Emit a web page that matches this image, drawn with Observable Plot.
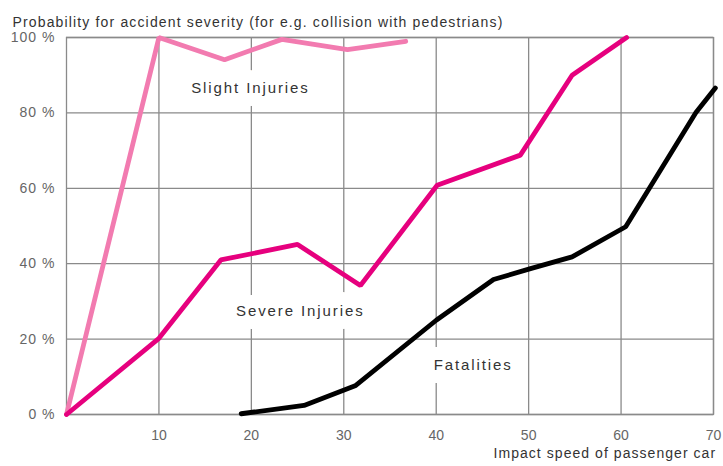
<!DOCTYPE html>
<html>
<head>
<meta charset="utf-8">
<script src="https://cdn.jsdelivr.net/npm/d3@7"></script>
<script src="https://cdn.jsdelivr.net/npm/@observablehq/plot@0.6"></script>
<style>
  html, body { margin: 0; padding: 0; background: #fff; }
  #chart svg { display: block; }
</style>
</head>
<body>
<div id="chart"></div>
<script>
const titleText = "Probability for accident severity (for e.g. collision with pedestrians)";
const xAxisLabel = "Impact speed of passenger car";
const xTicks = [10, 20, 30, 40, 50, 60, 70];
const yTicks = [0, 20, 40, 60, 80, 100];

const slightSpeed = [0, 10, 17.1, 23.3, 30.4, 36.7];
const slightProb  = [0, 100, 94.1, 99.5, 96.8, 99];

const severeSpeed = [0, 10, 16.7, 25.0, 31.8, 40.1, 49.1, 54.7, 60.6];
const severeProb  = [0, 20.2, 41, 45.1, 34.2, 60.8, 68.8, 90, 100];

const fatalSpeed = [18.9, 25.7, 31.3, 40, 46.2, 50.2, 54.7, 60.5, 68.1, 70.2];
const fatalProb  = [0.2, 2.4, 7.7, 25, 35.8, 38.7, 41.8, 49.8, 80.1, 86.6];

const seriesNames = ["Slight Injuries", "Severe Injuries", "Fatalities"];
const seriesColors = ["#f27bb0", "#e6007e", "#000000"];
const labelPos = [
  {name: "Slight Injuries", speed: 19.9, prob: 86.5},
  {name: "Severe Injuries", speed: 25.3, prob: 27.3},
  {name: "Fatalities", speed: 44.0, prob: 13.1}
];

const rows = [];
slightSpeed.forEach((s, i) => rows.push({series: seriesNames[0], speed: s, prob: slightProb[i]}));
severeSpeed.forEach((s, i) => rows.push({series: seriesNames[1], speed: s, prob: severeProb[i]}));
fatalSpeed.forEach((s, i) => rows.push({series: seriesNames[2], speed: s, prob: fatalProb[i]}));

const font = "'Liberation Sans', Arial, sans-serif";

const chart = Plot.plot({
  width: 723,
  height: 466,
  marginLeft: 66,
  marginRight: 10,
  marginTop: 37,
  marginBottom: 52,
  style: {fontFamily: font, background: "#fff"},
  x: {domain: [0, 70], ticks: xTicks},
  y: {domain: [0, 100], ticks: yTicks},
  color: {domain: seriesNames, range: seriesColors},
  marks: [
    Plot.gridX(xTicks, {stroke: "#8a8a8a", strokeOpacity: 1, strokeWidth: 1.3}),
    Plot.gridY(yTicks, {stroke: "#8a8a8a", strokeOpacity: 1, strokeWidth: 1.3}),
    Plot.frame({stroke: "#8a8a8a", strokeWidth: 1.3}),
    Plot.axisX(xTicks, {tickSize: 0, tickPadding: 16, fontSize: 14, fill: "#666", label: null}),
    Plot.axisY(yTicks, {tickSize: 0, tickPadding: 11, fontSize: 14, fill: "#666", label: null, tickFormat: d => d + " %"}),
    Plot.text([titleText], {frameAnchor: "top-left", dx: -54, dy: -20, textAnchor: "start", fontSize: 14, fill: "#333"}),
    Plot.text([xAxisLabel], {frameAnchor: "bottom-right", dx: -220, dy: 43, textAnchor: "start", fontSize: 14, fill: "#333"}),
    Plot.text(labelPos, {x: "speed", y: "prob", text: "name", fontSize: 15, fill: "#333", stroke: "white", strokeWidth: 26, strokeLinejoin: "round", paintOrder: "stroke"}),
    Plot.line(rows, {x: "speed", y: "prob", z: "series", stroke: "series", strokeWidth: 4.8, strokeLinejoin: "miter", strokeLinecap: "round"})
  ]
});

const sel = d3.select(chart);
sel.selectAll("text").each(function() {
  const t = this.textContent;
  const s = d3.select(this);
  if (t === titleText) s.style("letter-spacing", "1.15px");
  else if (t === xAxisLabel) s.style("letter-spacing", "1.05px");
  else if (seriesNames.includes(t)) s.style("letter-spacing", "1.9px");
  else if (t.endsWith(" %")) s.style("letter-spacing", "1px");
});
document.getElementById("chart").appendChild(chart);
</script>
</body>
</html>
